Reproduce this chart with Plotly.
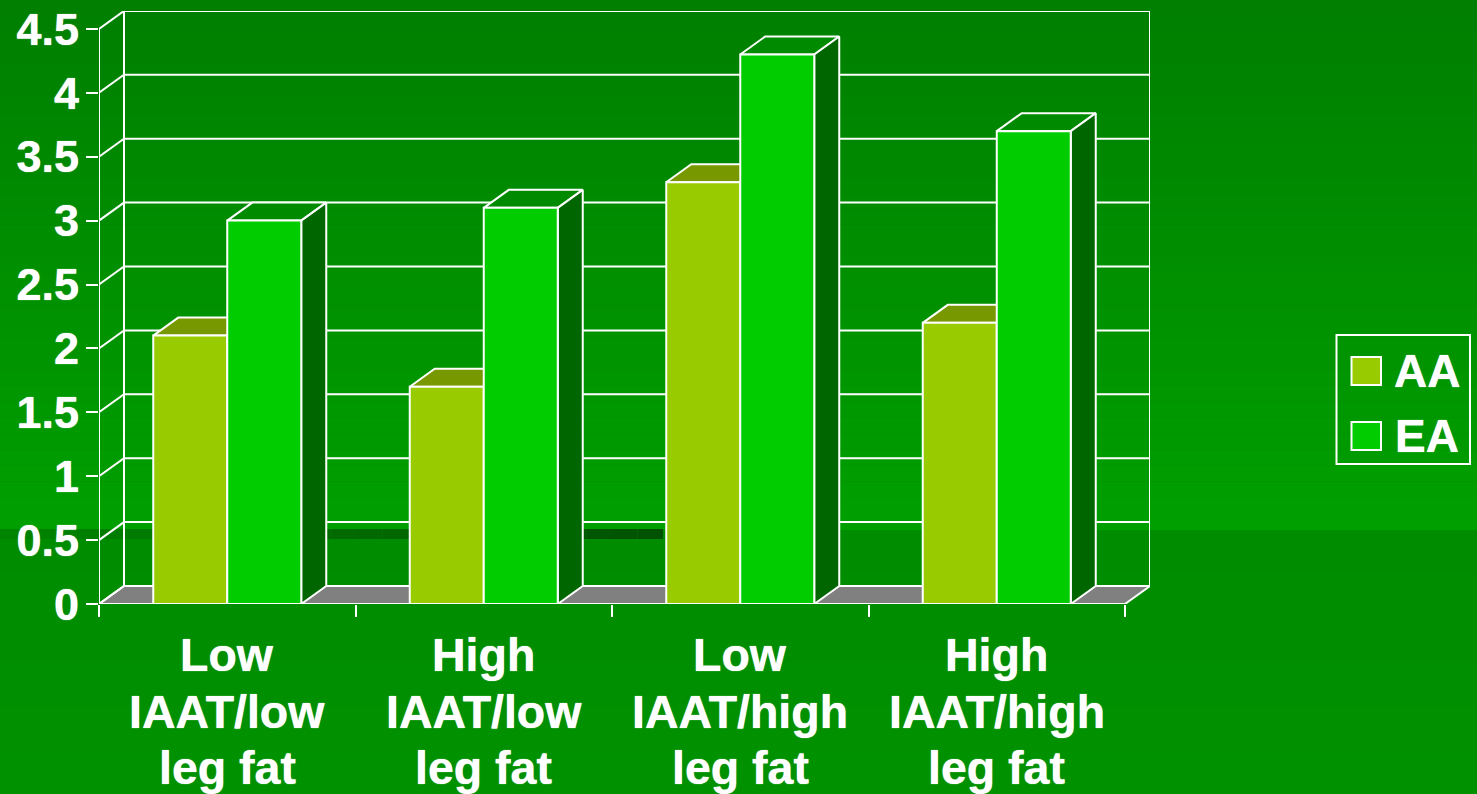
import plotly.graph_objects as go

# Chart data
category_lines = [["Low", "IAAT/low", "leg fat"], ["High", "IAAT/low", "leg fat"],
                  ["Low", "IAAT/high", "leg fat"], ["High", "IAAT/high", "leg fat"]]
aa_values = [2.1, 1.7, 3.3, 2.2]
ea_values = [3.0, 3.1, 4.3, 3.7]
y_ticks = [0, 0.5, 1, 1.5, 2, 2.5, 3, 3.5, 4, 4.5]
y_labels = ["0", "0.5", "1", "1.5", "2", "2.5", "3", "3.5", "4", "4.5"]
series_names = ["AA", "EA"]

# Page and plot geometry, in pixels
W, H = 1477, 794
X0, X_END, Y0, Y_TOP = 99, 1150, 604, 11
PX_PER_CAT = 256.5
PX_PER_UNIT = 127.8
LABEL_LINE_Y = [654.5, 711.5, 768]

# Oblique depth of the 3-D box, in data units
DX = 25 / PX_PER_CAT
DY = 18 / PX_PER_UNIT
BAR_W = 0.2885

WHITE = "#ffffff"
AA_FRONT, AA_TOP = "#99cc00", "#789800"
EA_FRONT, EA_TOP, EA_SIDE = "#00cc00", "#008a00", "#006600"
FLOOR = "#808080"
FONT = "Liberation Sans"
# A faint same-colour halo gives the labels their heavier slide weight
HEAVY = "0 0 1px #ffffff"


def px(x):
    return x / W


def py(y):
    return 1 - y / H


def hexgreen(level):
    return f"#00{level:02x}00"


fig = go.Figure()
shapes = []
annotations = []

# Slide background: vertical gradient above the step, a second one below it
STEP_Y = 530
top_levels = list(range(0x7f, 0xa0))
for i, lev in enumerate(top_levels):
    y_a = STEP_Y * i / len(top_levels)
    y_b = STEP_Y * (i + 1) / len(top_levels)
    shapes.append(dict(type="rect", xref="paper", yref="paper", layer="below",
                       x0=0, x1=1, y0=py(y_b), y1=py(y_a),
                       fillcolor=hexgreen(lev), line_width=0))
low_levels = list(range(0x8c, 0x92))
for i, lev in enumerate(low_levels):
    y_a = STEP_Y + (H - STEP_Y) * i / len(low_levels)
    y_b = STEP_Y + (H - STEP_Y) * (i + 1) / len(low_levels)
    shapes.append(dict(type="rect", xref="paper", yref="paper", layer="below",
                       x0=0, x1=1, y0=py(y_b), y1=py(y_a),
                       fillcolor=hexgreen(lev), line_width=0))

# Dark horizontal stripe that deepens towards its right end
BAND_END = 663
band_steps = 26
for i in range(band_steps):
    lev = round(0x84 + (0x52 - 0x84) * i / (band_steps - 1))
    shapes.append(dict(type="rect", xref="paper", yref="paper", layer="below",
                       x0=px(BAND_END * i / band_steps), x1=px(BAND_END * (i + 1) / band_steps),
                       y0=py(539), y1=py(529),
                       fillcolor=hexgreen(lev), line_width=0))

x_front_end = len(category_lines)

# Floor of the box
fig.add_trace(go.Scatter(
    x=[0, DX, x_front_end + DX, x_front_end, 0],
    y=[0, DY, DY, 0, 0],
    mode="lines", fill="toself", fillcolor=FLOOR,
    line=dict(color=WHITE, width=2), hoverinfo="skip", showlegend=False,
    cliponaxis=False, zorder=0))

# Back wall gridlines, side-wall diagonals and front left edge
wall_x, wall_y = [], []
for t in y_ticks:
    wall_x += [0, DX, x_front_end + DX, None]
    wall_y += [t, t + DY, t + DY, None]
wall_x += [0, 0, None, DX, DX, None, x_front_end + DX, x_front_end + DX, None]
wall_y += [0, y_ticks[-1], None, DY, y_ticks[-1] + DY, None, DY, y_ticks[-1] + DY, None]
wall_x += [0, x_front_end]
wall_y += [0, 0]
fig.add_trace(go.Scatter(
    x=wall_x, y=wall_y, mode="lines", line=dict(color=WHITE, width=2),
    hoverinfo="skip", showlegend=False, cliponaxis=False, zorder=0))


def add_prism(left, right, value, top_color, side_color):
    """Top and right faces of a bar, offset by the box depth."""
    fig.add_trace(go.Scatter(
        x=[left, left + DX, right + DX, right, left],
        y=[value, value + DY, value + DY, value, value],
        mode="lines", fill="toself", fillcolor=top_color,
        line=dict(color=WHITE, width=2), hoverinfo="skip", showlegend=False,
        cliponaxis=False, zorder=1))
    if side_color:
        fig.add_trace(go.Scatter(
            x=[right, right + DX, right + DX, right, right],
            y=[0, DY, value + DY, value, 0],
            mode="lines", fill="toself", fillcolor=side_color,
            line=dict(color=WHITE, width=2), hoverinfo="skip", showlegend=False,
            cliponaxis=False, zorder=1))


centers = [i + 0.5 for i in range(len(category_lines))]
for c, aa, ea in zip(centers, aa_values, ea_values):
    add_prism(c - BAR_W, c, aa, AA_TOP, None)
    add_prism(c, c + BAR_W, ea, EA_TOP, EA_SIDE)

# Front faces of the bars
fig.add_trace(go.Bar(x=centers, y=aa_values, name=series_names[0], marker=dict(
    color=AA_FRONT, line=dict(color=WHITE, width=2)), cliponaxis=False, zorder=2, showlegend=False))
fig.add_trace(go.Bar(x=centers, y=ea_values, name=series_names[1], marker=dict(
    color=EA_FRONT, line=dict(color=WHITE, width=2)), cliponaxis=False, zorder=2, showlegend=False))

# Category labels, one annotation per line for tight leading
for c, lines in zip(centers, category_lines):
    for line, ly in zip(lines, LABEL_LINE_Y):
        annotations.append(dict(text=line, xref="x", yref="paper", x=c, y=py(ly),
                                xanchor="center", yanchor="middle", showarrow=False,
                                font=dict(family=FONT, size=46.5, color=WHITE, weight=700,
                                          shadow=HEAVY)))

# Legend box, drawn large to suit the slide
shapes.append(dict(type="rect", xref="paper", yref="paper", x0=px(1336.5), x1=px(1470),
                   y0=py(464), y1=py(335), line=dict(color=WHITE, width=2)))
for (top, bottom), color, name, ty in zip([(357, 385), (422, 450)], [AA_FRONT, EA_FRONT],
                                          series_names, [371, 436]):
    shapes.append(dict(type="rect", xref="paper", yref="paper", x0=px(1351.5), x1=px(1381),
                       y0=py(bottom), y1=py(top), fillcolor=color,
                       line=dict(color=WHITE, width=2)))
    annotations.append(dict(text=name, xref="paper", yref="paper", x=px(1427), y=py(ty),
                            xanchor="center", yanchor="middle", showarrow=False,
                            font=dict(family=FONT, size=46, color=WHITE, weight=700,
                                      shadow=HEAVY)))

fig.update_layout(
    width=W, height=H, margin=dict(l=0, r=0, t=0, b=0, autoexpand=False),
    paper_bgcolor="#008000", plot_bgcolor="rgba(0,0,0,0)",
    barmode="group", bargap=1 - 2 * BAR_W, bargroupgap=0,
    showlegend=False, shapes=shapes, annotations=annotations,
    font=dict(family=FONT, color=WHITE),
    xaxis=dict(
        domain=[px(X0), px(X_END)], range=[0, (X_END - X0) / PX_PER_CAT],
        automargin=False, tickmode="array", tickvals=list(range(len(category_lines) + 1)),
        ticks="outside", ticklen=12, tickwidth=2, tickcolor=WHITE, showticklabels=False,
        showgrid=False, zeroline=False, showline=False,
    ),
    yaxis=dict(
        domain=[py(Y0), py(Y_TOP)], range=[0, (Y0 - Y_TOP) / PX_PER_UNIT],
        automargin=False, tickmode="array", tickvals=y_ticks, ticktext=y_labels, ticks="outside",
        ticklen=12, tickwidth=2, tickcolor=WHITE, ticklabelstandoff=-2,
        tickfont=dict(family=FONT, size=45, color=WHITE, weight=700, shadow=HEAVY),
        showgrid=False, zeroline=False, showline=False,
    ),
)

fig.write_html("out.html", config=dict(displayModeBar=False))
